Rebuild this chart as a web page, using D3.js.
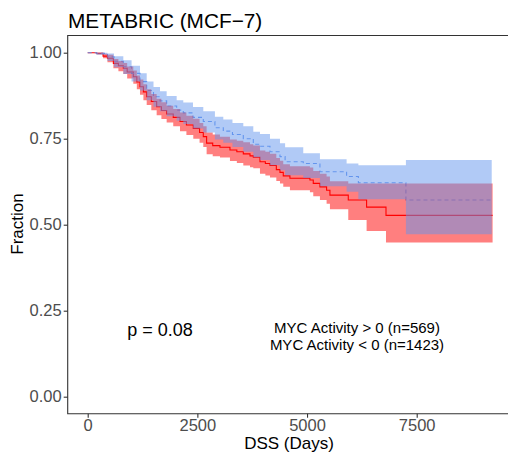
<!DOCTYPE html>
<html><head><meta charset="utf-8">
<script src="https://cdn.jsdelivr.net/npm/d3@7"></script>
<style>body{margin:0;background:#fff;} svg{display:block;font-family:"Liberation Sans",Arial,sans-serif;}</style>
</head><body>
<svg id="c" width="508" height="460"></svg>
<script>
// Group with MYC Activity < 0 (red, solid)
const redTime  = [0,200,350,450,585,700,812,900,1040,1120,1192,1270,1345,1450,1572,1680,1800,1950,2104,2250,2407,2550,2635,2711,2850,3015,3243,3400,3547,3700,3775,3927,4050,4155,4300,4383,4458,4610,5066,5142,5294,5446,5522,5940,6358,6800,9230];
const redSurv  = [1.0,0.998,0.990,0.984,0.969,0.962,0.955,0.944,0.930,0.915,0.901,0.886,0.872,0.858,0.843,0.832,0.822,0.812,0.800,0.790,0.780,0.768,0.756,0.737,0.730,0.725,0.717,0.712,0.706,0.700,0.696,0.683,0.678,0.672,0.660,0.652,0.642,0.635,0.630,0.620,0.610,0.600,0.586,0.572,0.551,0.527,0.527];
const redLower = [1.0,0.995,0.984,0.972,0.955,0.946,0.938,0.925,0.910,0.894,0.878,0.862,0.848,0.833,0.818,0.807,0.797,0.786,0.772,0.761,0.750,0.738,0.726,0.705,0.699,0.695,0.685,0.679,0.672,0.667,0.664,0.648,0.643,0.637,0.627,0.620,0.610,0.600,0.594,0.583,0.572,0.561,0.545,0.514,0.482,0.448,0.448];
const redUpper = [1.0,1.0,0.997,0.994,0.982,0.976,0.970,0.960,0.948,0.934,0.922,0.908,0.894,0.880,0.866,0.856,0.846,0.836,0.826,0.817,0.808,0.796,0.786,0.768,0.762,0.756,0.748,0.744,0.740,0.734,0.730,0.716,0.712,0.706,0.694,0.686,0.676,0.670,0.666,0.656,0.648,0.640,0.626,0.620,0.620,0.620,0.620];

// Group with MYC Activity > 0 (blue, dashed)
const blueTime  = [0,200,450,600,812,1000,1192,1345,1500,1648,1800,2028,2179,2400,2635,2900,3091,3300,3547,3775,3927,4155,4383,4500,4914,5294,5902,6170,7254,9210];
const blueSurv  = [1.0,0.998,0.988,0.975,0.959,0.940,0.916,0.890,0.872,0.860,0.845,0.833,0.825,0.812,0.800,0.782,0.772,0.762,0.750,0.734,0.728,0.712,0.698,0.683,0.678,0.654,0.640,0.622,0.572,0.572];
const blueLower = [1.0,0.994,0.976,0.958,0.938,0.916,0.890,0.862,0.843,0.830,0.815,0.802,0.793,0.780,0.768,0.748,0.738,0.726,0.712,0.696,0.688,0.673,0.658,0.644,0.636,0.612,0.596,0.574,0.472,0.472];
const blueUpper = [1.0,1.0,0.998,0.990,0.978,0.962,0.940,0.916,0.900,0.888,0.874,0.862,0.855,0.842,0.830,0.814,0.806,0.796,0.786,0.770,0.764,0.750,0.737,0.725,0.708,0.690,0.678,0.673,0.688,0.688];

const xTicks = [0,2500,5000,7500];
const yTicks = [0,0.25,0.5,0.75,1.0];
const yTickLabels = ["0.00","0.25","0.50","0.75","1.00"];
const titleText = "METABRIC (MCF\u22127)";
const legendLabels = ["MYC Activity > 0 (n=569)","MYC Activity < 0 (n=1423)"];
const pText = "p = 0.08";

const svg = d3.select("#c");
const panel = {left:67.7, top:35.5, bottom:413.7, right:520};
const x = d3.scaleLinear().domain([0,7500]).range([87.7,416.7]);
const y = d3.scaleLinear().domain([0,1]).range([396.7,52.7]);

function rows(t,s,l,u){return t.map((d,i)=>({t:d,s:s[i],l:l[i],u:u[i]}));}
const red = rows(redTime,redSurv,redLower,redUpper);
const blue = rows(blueTime,blueSurv,blueLower,blueUpper);

const line = d3.line().curve(d3.curveStepAfter).x(d=>x(d.t)).y(d=>y(d.s));
const area = d3.area().curve(d3.curveStepAfter).x(d=>x(d.t)).y0(d=>y(d.l)).y1(d=>y(d.u));

const g = svg.append("g");
// lines first (ribbons drawn on top, as in survminer)
g.append("path").datum(red).attr("d",line).attr("fill","none").attr("stroke","#FF0000").attr("stroke-width",1.1);
g.append("path").datum(blue).attr("d",line).attr("fill","none").attr("stroke","#6495ED").attr("stroke-width",1.1).attr("stroke-dasharray","4,3");
g.append("path").datum(red).attr("d",area).attr("fill","#FF0000").attr("fill-opacity",0.5);
g.append("path").datum(blue).attr("d",area).attr("fill","#6495ED").attr("fill-opacity",0.5);

// panel border (left, top, bottom)
svg.append("path").attr("d",`M${panel.right},${panel.top}H${panel.left}V${panel.bottom}H${panel.right}`)
  .attr("fill","none").attr("stroke","#333333").attr("stroke-width",1.1);

// axes
const xAxis = svg.append("g").attr("transform",`translate(0,${panel.bottom})`)
  .call(d3.axisBottom(x).tickValues(xTicks).tickSize(4).tickPadding(2).tickFormat(d3.format("d")));
const yAxis = svg.append("g").attr("transform",`translate(${panel.left},0)`)
  .call(d3.axisLeft(y).tickValues(yTicks).tickSize(4).tickPadding(2).tickFormat((d,i)=>yTickLabels[i]));
[xAxis,yAxis].forEach(a=>{
  a.select(".domain").remove();
  a.selectAll(".tick line").attr("stroke","#333333").attr("stroke-width",1.1);
  a.selectAll(".tick text").attr("fill","#4D4D4D").style("font-size","16.5px").style("font-family","Liberation Sans, Arial, sans-serif");
});

svg.append("text").attr("x",68).attr("y",27.5).text(titleText)
  .style("font-size","20.8px").attr("fill","#000");
svg.append("text").attr("x",289).attr("y",449).attr("text-anchor","middle").text("DSS (Days)")
  .style("font-size","17px").attr("fill","#000");
svg.append("text").attr("transform","translate(23,224) rotate(-90)").attr("text-anchor","middle").text("Fraction")
  .style("font-size","17px").attr("fill","#000");
svg.append("text").attr("x",160).attr("y",336).attr("text-anchor","middle").text(pText)
  .style("font-size","18px").attr("fill","#000");
legendLabels.forEach((t,i)=>{
  svg.append("text").attr("x",357).attr("y",333+i*16.5).attr("text-anchor","middle").text(t)
    .style("font-size","15px").attr("fill","#000");
});
</script>
</body></html>
